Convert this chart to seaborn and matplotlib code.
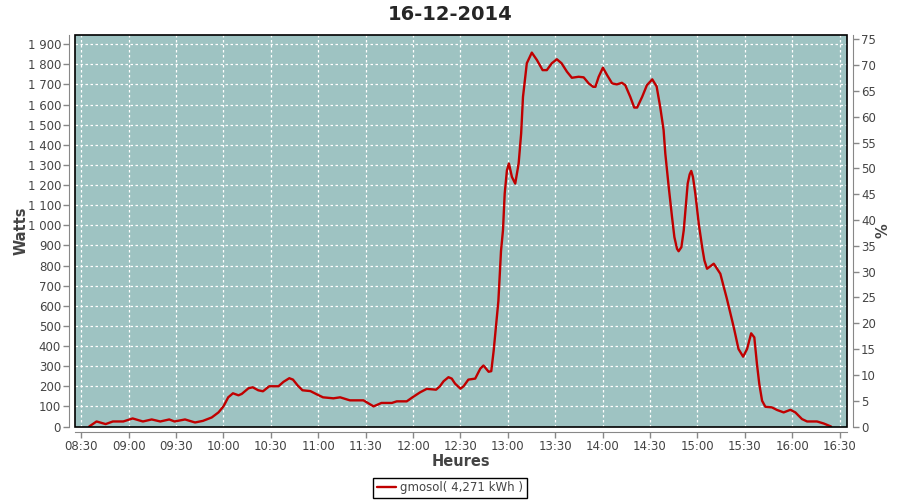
import pandas as pd
import matplotlib
matplotlib.use("Agg")
import matplotlib.pyplot as plt
import matplotlib.dates as mdates
from matplotlib.patches import Rectangle
from matplotlib.ticker import FuncFormatter, MultipleLocator
import seaborn as sns

# --- données ---
jour = "2014-12-16"
titre = "16-12-2014"
serie = "gmosol( 4,271 kWh )"

heures = [
    "08:35:00", "08:39:40", "08:45:25", "08:50:00", "08:56:35", "09:02:30",
    "09:09:00", "09:14:35", "09:20:00", "09:25:40", "09:29:00", "09:35:40",
    "09:42:00", "09:47:00", "09:52:35", "09:56:50", "10:00:00", "10:03:00",
    "10:06:00", "10:09:30", "10:11:35", "10:15:50", "10:18:30", "10:22:00",
    "10:25:00", "10:29:00", "10:34:50", "10:38:00", "10:41:40", "10:44:00",
    "10:46:50", "10:50:00", "10:55:00", "10:59:00", "11:03:00", "11:09:35",
    "11:13:50", "11:20:00", "11:28:35", "11:35:00", "11:40:00", "11:46:35",
    "11:49:40", "11:56:00", "12:00:00", "12:04:30", "12:08:40", "12:14:35",
    "12:17:00", "12:19:20", "12:22:25", "12:24:30", "12:26:35", "12:30:00",
    "12:32:00", "12:35:00", "12:39:20", "12:42:35", "12:44:35", "12:47:50",
    "12:49:30", "12:51:00", "12:52:00", "12:53:00", "12:54:00", "12:55:00",
    "12:55:40", "12:56:55", "12:58:00", "12:59:25", "13:00:40", "13:02:35",
    "13:04:40", "13:06:50", "13:08:25", "13:09:35", "13:11:00", "13:12:00",
    "13:15:10", "13:18:25", "13:22:00", "13:24:40", "13:27:50", "13:31:00",
    "13:34:00", "13:37:25", "13:40:30", "13:44:50", "13:48:00", "13:51:10",
    "13:54:00", "13:55:25", "13:57:30", "14:00:10", "14:02:50", "14:06:00",
    "14:09:00", "14:12:10", "14:14:20", "14:17:30", "14:20:00", "14:21:50",
    "14:25:00", "14:28:00", "14:31:25", "14:34:10", "14:36:25", "14:38:35",
    "14:39:40", "14:41:50", "14:43:55", "14:45:25", "14:47:05", "14:48:05",
    "14:49:50", "14:51:20", "14:52:25", "14:53:50", "14:55:05", "14:56:05",
    "14:57:10", "14:58:40", "15:00:50", "15:03:00", "15:04:25", "15:06:05",
    "15:10:20", "15:14:30", "15:18:40", "15:23:00", "15:26:00", "15:28:55",
    "15:31:25", "15:34:00", "15:36:00", "15:37:40", "15:39:10", "15:40:55",
    "15:43:00", "15:47:10", "15:50:25", "15:54:35", "15:58:50", "16:02:00",
    "16:06:10", "16:09:25", "16:15:40", "16:19:55", "16:24:35",
]
watts = [
    0, 25, 12, 25, 25, 40,
    25, 35, 25, 35, 25, 35,
    20, 28, 45, 70, 100, 145,
    165, 155, 162, 190, 195, 180,
    175, 200, 200, 222, 240, 233,
    205, 180, 176, 160, 145, 140,
    145, 130, 130, 100, 117, 117,
    125, 125, 147, 170, 187, 183,
    200, 225, 245, 238, 213, 188,
    200, 233, 238, 288, 303, 272,
    275, 375, 458, 540, 623, 773,
    872, 975, 1157, 1273, 1307, 1240,
    1207, 1307, 1456, 1638, 1738, 1805,
    1858, 1821, 1771, 1771, 1805, 1825,
    1805, 1763, 1733, 1738, 1735, 1705,
    1688, 1688, 1738, 1783, 1746, 1705,
    1700, 1708, 1696, 1638, 1585, 1585,
    1638, 1696, 1725, 1690, 1589, 1473,
    1356, 1190, 1041, 941, 883, 871,
    891, 975, 1074, 1207, 1253, 1270,
    1240, 1157, 1008, 891, 825, 784,
    809, 759, 634, 493, 385, 347,
    385, 463, 443, 311, 211, 128,
    98, 95, 82, 70, 83, 70,
    37, 25, 25, 15, 0,
]

sns.set_style("ticks")
plt.rcParams["font.family"] = ["DejaVu Sans"]

df = pd.DataFrame({
    "heure": pd.to_datetime([f"{jour} {h}" for h in heures]),
    "watts": watts,
})

gris = "#888888"
texte = "#444444"

fig = plt.figure(figsize=(9, 5), dpi=100)
ax = fig.add_axes([0.0833, 0.147, 0.8578, 0.7836])
ax.set_facecolor("#9ec3c2")

sns.lineplot(data=df, x="heure", y="watts", ax=ax, color="#c00000",
             linewidth=1.7, label=serie, legend=False)

ax.set_ylim(0, 1947)
ax.yaxis.set_major_locator(MultipleLocator(100))
ax.yaxis.set_major_formatter(FuncFormatter(lambda v, p: f"{int(v):,}".replace(",", " ")))
ax.set_xlim(pd.Timestamp(f"{jour} 08:26:00"), pd.Timestamp(f"{jour} 16:34:40"))
ax.xaxis.set_major_locator(mdates.MinuteLocator(byminute=[0, 30]))
ax.xaxis.set_major_formatter(mdates.DateFormatter("%H:%M"))
ax.grid(True, color="white", linestyle=(0, (2, 2)), linewidth=0.9)

for s in ["top", "right"]:
    ax.spines[s].set_visible(False)
for s in ["left", "bottom"]:
    ax.spines[s].set_position(("outward", 4))
    ax.spines[s].set_color(gris)
ax.add_patch(Rectangle((0, 0), 1, 1, transform=ax.transAxes, fill=False,
                       edgecolor="black", linewidth=1.2, zorder=5, clip_on=False))
ax.tick_params(axis="both", direction="out", length=4, width=1, color=gris,
               labelsize=8.5, labelcolor=texte, pad=2)

ax.set_xlabel("Heures", fontsize=10.5, fontweight="bold", color=texte)
ax.set_ylabel("Watts", fontsize=10.5, fontweight="bold", color=texte)
ax.xaxis.set_label_coords(0.5, -0.07)
ax.yaxis.set_label_coords(-0.06, 0.5)

# axe secondaire en %
ax2 = ax.twinx()
ax2.set_ylim(0, 75.9)
ax2.yaxis.set_major_locator(MultipleLocator(5))
for s in ["top", "left", "bottom"]:
    ax2.spines[s].set_visible(False)
ax2.spines["right"].set_position(("outward", 4))
ax2.spines["right"].set_color(gris)
ax2.tick_params(axis="y", direction="out", length=4, width=1, color=gris,
                labelsize=8.5, labelcolor=texte, pad=2)
ax2.set_ylabel("%", fontsize=10.5, fontweight="bold", color=texte)
ax2.yaxis.set_label_coords(1.037, 0.5)

fig.text(0.5, 0.972, titre, ha="center", va="center", fontsize=14, fontweight="bold")

h, l = ax.get_legend_handles_labels()
leg = fig.legend(h, l, loc="center", bbox_to_anchor=(0.5, 0.024), fancybox=False,
                 edgecolor="black", framealpha=1, fontsize=8.5, handlelength=1.6,
                 borderpad=0.3, handletextpad=0.4)
leg.get_frame().set_linewidth(1)
for t in leg.get_texts():
    t.set_color(texte)

fig.savefig("out.png", dpi=100)
